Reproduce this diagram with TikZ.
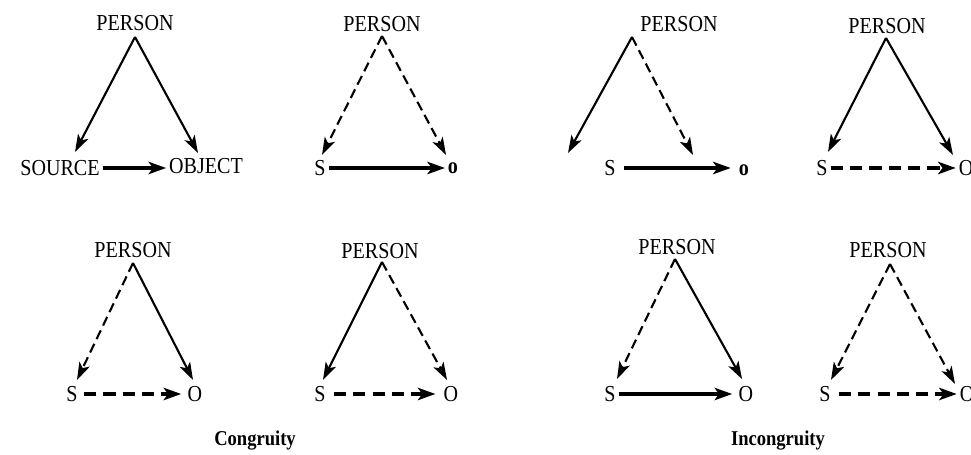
\documentclass[tikz,border=0pt]{standalone}
\usepackage{fontspec}
\setmainfont{Liberation Serif}[FakeStretch=0.88]
\usepackage{tikz}
\usetikzlibrary{arrows.meta}

\begin{document}
\begin{tikzpicture}[x=0.02cm, y=-0.02cm, font=\fontsize{13}{15}\selectfont,
  lbl/.style={inner sep=1.5pt},
  side/.style={line width=1.2pt, -{Stealth[length=10pt, width=6.5pt, inset=2.5pt]}},
  dside/.style={side, dash pattern=on 5.5pt off 3pt},
  base/.style={line width=2.4pt, -{Stealth[length=10pt, width=7pt, inset=2.5pt]}},
  dbase/.style={base, dash pattern=on 7pt off 4pt},
  caption/.style={lbl, font=\fontsize{12}{14}\selectfont\bfseries}]
\useasboundingbox (0,0) rectangle (971,455);

% congruity, top left
\node[lbl] (p1) at (135,23) {PERSON};
\node[lbl] (s1) at (60,168) {SOURCE};
\node[lbl] (o1) at (206,166) {OBJECT};
\coordinate (a1) at (135,37);
\coordinate (l1) at (75,152);
\coordinate (r1) at (198,153);
\draw[side] (a1) -- (l1);
\draw[side] (a1) -- (r1);
\draw[base] (s1.east) -- (s1.east -| o1.west);

% congruity, top right
\node[lbl] (p2) at (382,24) {PERSON};
\node[lbl] (s2) at (320,168) {S};
\node[lbl] (o2) at (453,168) {\textbf{o}};
\coordinate (a2) at (382,36);
\coordinate (l2) at (322,155);
\coordinate (r2) at (446,155);
\draw[dside] (a2) -- (l2);
\draw[dside] (a2) -- (r2);
\draw[base] (s2.east) -- (s2.east -| o2.west);

% incongruity, top left
\node[lbl] (p3) at (679,24) {PERSON};
\node[lbl] (s3) at (610,168) {S};
\node[lbl] (o3) at (744,170) {\textbf{o}};
\coordinate (a3) at (632,37);
\coordinate (l3) at (568,153);
\coordinate (r3) at (693,155);
\draw[side] (a3) -- (l3);
\draw[dside] (a3) -- (r3);
\draw[base] ([xshift=3pt]s3.east) -- ([xshift=-3pt]s3.east -| o3.west);

% incongruity, top right
\node[lbl] (p4) at (887,26) {PERSON};
\node[lbl] (s4) at (822,168) {S};
\node[lbl] (o4) at (966,168) {O};
\coordinate (a4) at (886,38);
\coordinate (l4) at (828,152);
\coordinate (r4) at (953,155);
\draw[side] (a4) -- (l4);
\draw[side] (a4) -- (r4);
\draw[dbase] (s4.east) -- (s4.east -| o4.west);

% congruity, bottom left
\node[lbl] (p5) at (133,250) {PERSON};
\node[lbl] (s5) at (72,394) {S};
\node[lbl] (o5) at (195,394) {O};
\coordinate (a5) at (133,263);
\coordinate (l5) at (77,380);
\coordinate (r5) at (193,380);
\draw[dside] (a5) -- (l5);
\draw[side] (a5) -- (r5);
\draw[dbase] ([xshift=2pt]s5.east) -- ([xshift=-2pt]s5.east -| o5.west);

% congruity, bottom right
\node[lbl] (p6) at (380,251) {PERSON};
\node[lbl] (s6) at (320,394) {S};
\node[lbl] (o6) at (451,394) {O};
\coordinate (a6) at (382,262);
\coordinate (l6) at (323,380);
\coordinate (r6) at (447,380);
\draw[side] (a6) -- (l6);
\draw[dside] (a6) -- (r6);
\draw[dbase] ([xshift=3pt]s6.east) -- ([xshift=-3pt]s6.east -| o6.west);

% incongruity, bottom left
\node[lbl] (p7) at (677,247) {PERSON};
\node[lbl] (s7) at (610,394) {S};
\node[lbl] (o7) at (746,394) {O};
\coordinate (a7) at (675,259);
\coordinate (l7) at (617,379);
\coordinate (r7) at (742,379);
\draw[dside] (a7) -- (l7);
\draw[side] (a7) -- (r7);
\draw[base] (s7.east) -- ([xshift=-2pt]s7.east -| o7.west);

% incongruity, bottom right
\node[lbl] (p8) at (888,250) {PERSON};
\node[lbl] (s8) at (825,394) {S};
\node[lbl] (o8) at (967,394) {O};
\coordinate (a8) at (890,264);
\coordinate (l8) at (831,380);
\coordinate (r8) at (955,384);
\draw[dside] (a8) -- (l8);
\draw[dside] (a8) -- (r8);
\draw[dbase] ([xshift=3pt]s8.east) -- (s8.east -| o8.west);

% captions
\node[caption] (cong) at (255,441) {Congruity};
\node[caption] (incong) at (778,441) {Incongruity};
\end{tikzpicture}
\end{document}
